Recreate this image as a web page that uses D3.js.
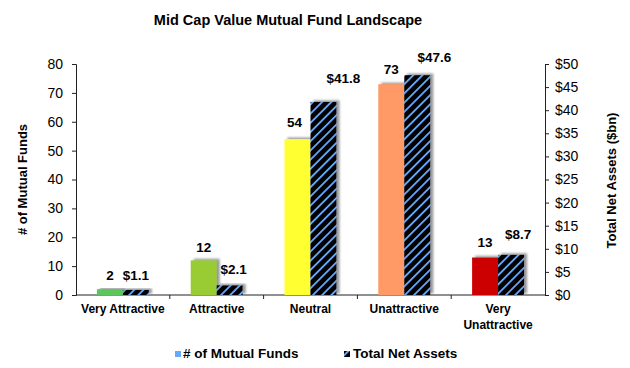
<!DOCTYPE html>
<html lang="en">
<head>
<meta charset="UTF-8">
<script src="https://d3js.org/d3.v7.min.js"></script>
<style>
body { margin: 0; background: #fff; font-family: "Liberation Sans", Arial, sans-serif; }
.tick text { font-size: 14px; fill: #000; }
.lbl { font-size: 13.5px; font-weight: bold; }
.cat { font-size: 12px; font-weight: bold; }
.legtxt { font-size: 13.5px; font-weight: bold; }
</style>
</head>
<body>
<div id="chart"></div>
<script>
// data
const categories = ["Very Attractive", "Attractive", "Neutral", "Unattractive", "Very Unattractive"];
const fundCounts = [2, 12, 54, 73, 13];
const netAssets = [1.1, 2.1, 41.8, 47.6, 8.7];
const fundColors = ["#5cc55c", "#99cc33", "#ffff33", "#ff9966", "#cc0000"];
const leftTicks = [0, 10, 20, 30, 40, 50, 60, 70, 80];
const rightTicks = [0, 5, 10, 15, 20, 25, 30, 35, 40, 45, 50];

// label nudges (excel labels were dragged by hand)
const fundLabelNudge = [[0, 1], [0, 2], [-3, -2], [0, 0], [0, 0]];
const assetLabelNudge = [[0, 0], [4, -1], [20, -9], [17, -3], [7, -6]];

const width = 630, height = 368;
const margin = { left: 76, right: 85, top: 64, bottom: 73 };

const svg = d3.select("#chart").append("svg")
  .attr("width", width)
  .attr("height", height);

const defs = svg.append("defs");
const pat = defs.append("pattern")
  .attr("id", "hatch")
  .attr("patternUnits", "userSpaceOnUse")
  .attr("width", 6.5).attr("height", 6.5)
  .attr("patternTransform", "rotate(45)");
pat.append("rect").attr("width", 6.5).attr("height", 6.5).attr("fill", "#000");
pat.append("rect").attr("width", 1.8).attr("height", 6.5).attr("fill", "#66aaff");

const sh = defs.append("filter").attr("id", "shadow")
  .attr("x", "-20%").attr("y", "-20%").attr("width", "150%").attr("height", "140%");
sh.append("feDropShadow")
  .attr("dx", 3).attr("dy", -1.5).attr("stdDeviation", 1.3)
  .attr("flood-color", "#777").attr("flood-opacity", 0.75);

const x = d3.scaleBand()
  .domain(categories)
  .range([margin.left, width - margin.right]);

const y = d3.scaleLinear().domain([0, 80]).range([height - margin.bottom, margin.top]);
const y2 = d3.scaleLinear().domain([0, 50]).range([height - margin.bottom, margin.top]);

const barW = 26;

// left axis
svg.append("g")
  .attr("transform", `translate(${margin.left},0)`)
  .call(d3.axisLeft(y).tickValues(leftTicks).tickSize(4).tickPadding(9))
  .call(g => g.selectAll("path,line").attr("stroke", "#222"));

// right axis
svg.append("g")
  .attr("transform", `translate(${width - margin.right},0)`)
  .call(d3.axisRight(y2).tickValues(rightTicks).tickSize(4).tickPadding(6).tickFormat(d => "$" + d))
  .call(g => g.selectAll("path,line").attr("stroke", "#222"));

// x axis
const base = height - margin.bottom;
svg.append("line")
  .attr("x1", margin.left).attr("x2", width - margin.right)
  .attr("y1", base).attr("y2", base)
  .attr("stroke", "#222");
svg.selectAll(".xt").data(categories.slice(1)).enter().append("line")
  .attr("x1", d => x(d)).attr("x2", d => x(d))
  .attr("y1", base).attr("y2", base + 4)
  .attr("stroke", "#222");

const groups = svg.selectAll(".grp").data(categories).enter().append("g");

groups.append("rect")
  .attr("x", d => x(d) + x.bandwidth() / 2 - barW)
  .attr("y", (d, i) => y(fundCounts[i]))
  .attr("width", barW)
  .attr("height", (d, i) => base - y(fundCounts[i]))
  .attr("fill", (d, i) => fundColors[i])
  .attr("filter", "url(#shadow)");

groups.append("rect")
  .attr("x", d => x(d) + x.bandwidth() / 2)
  .attr("y", (d, i) => y2(netAssets[i]))
  .attr("width", barW)
  .attr("height", (d, i) => base - y2(netAssets[i]))
  .attr("fill", "url(#hatch)")
  .attr("filter", "url(#shadow)");

// value labels
groups.append("text")
  .attr("class", "lbl")
  .attr("text-anchor", "middle")
  .attr("x", (d, i) => x(d) + x.bandwidth() / 2 - barW / 2 + fundLabelNudge[i][0])
  .attr("y", (d, i) => y(fundCounts[i]) - 10 + fundLabelNudge[i][1])
  .text((d, i) => fundCounts[i]);

groups.append("text")
  .attr("class", "lbl")
  .attr("text-anchor", "middle")
  .attr("x", (d, i) => x(d) + x.bandwidth() / 2 + barW / 2 + assetLabelNudge[i][0])
  .attr("y", (d, i) => y2(netAssets[i]) - 10 + assetLabelNudge[i][1])
  .text((d, i) => "$" + netAssets[i]);

// category labels
groups.append("text")
  .attr("class", "cat")
  .attr("text-anchor", "middle")
  .attr("x", d => x(d) + x.bandwidth() / 2)
  .attr("y", base + 18)
  .each(function(d) {
    const t = d3.select(this);
    const parts = d === "Very Unattractive" ? ["Very", "Unattractive"] : [d];
    parts.forEach((p, k) => {
      t.append("tspan")
        .attr("x", x(d) + x.bandwidth() / 2)
        .attr("dy", k === 0 ? 0 : 16)
        .text(p);
    });
  });

// titles
svg.append("text")
  .attr("x", 288).attr("y", 25)
  .attr("text-anchor", "middle")
  .style("font-size", "14.5px").style("font-weight", "bold")
  .text("Mid Cap Value Mutual Fund Landscape");

svg.append("text")
  .attr("transform", `translate(27,${(margin.top + base) / 2}) rotate(-90)`)
  .attr("text-anchor", "middle")
  .style("font-size", "13px").style("font-weight", "bold")
  .text("# of Mutual Funds");

svg.append("text")
  .attr("transform", `translate(616,${(margin.top + base) / 2 + 1}) rotate(-90)`)
  .attr("text-anchor", "middle")
  .style("font-size", "13px").style("font-weight", "bold")
  .text("Total Net Assets ($bn)");

// legend
const leg = svg.append("g").attr("transform", "translate(0,358)");
leg.append("rect").attr("x", 175).attr("y", -7).attr("width", 6).attr("height", 6).attr("fill", "#66aaff");
leg.append("text").attr("x", 183).attr("y", 0).attr("class", "legtxt").text("# of Mutual Funds");
leg.append("rect").attr("x", 344).attr("y", -7).attr("width", 6).attr("height", 6).attr("fill", "url(#hatch)");
leg.append("text").attr("x", 353).attr("y", 0).attr("class", "legtxt").text("Total Net Assets");
</script>
</body>
</html>
